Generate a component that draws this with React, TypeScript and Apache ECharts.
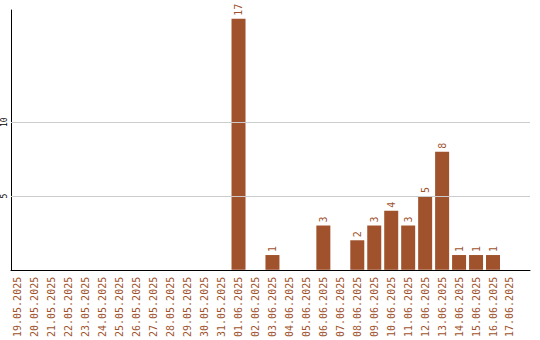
import React, { useEffect, useRef } from "react";
import * as echarts from "echarts";

const dates = [
  "19.05.2025", "20.05.2025", "21.05.2025", "22.05.2025", "23.05.2025", "24.05.2025",
  "25.05.2025", "26.05.2025", "27.05.2025", "28.05.2025", "29.05.2025", "30.05.2025",
  "31.05.2025", "01.06.2025", "02.06.2025", "03.06.2025", "04.06.2025", "05.06.2025",
  "06.06.2025", "07.06.2025", "08.06.2025", "09.06.2025", "10.06.2025", "11.06.2025",
  "12.06.2025", "13.06.2025", "14.06.2025", "15.06.2025", "16.06.2025", "17.06.2025",
];
const counts = [
  0, 0, 0, 0, 0, 0, 0, 0, 0, 0, 0, 0, 0, 17, 0, 1, 0, 0, 3, 0, 2, 3, 4, 3, 5, 8, 1, 1, 1, 0,
];
const yTickValues = [5, 10];

const BROWN = "#a0522d";
const FONT = "DejaVu Sans Mono";

export default function App() {
  const ref = useRef<HTMLDivElement>(null);
  useEffect(() => {
    if (!ref.current) return;
    const chart = echarts.init(ref.current, null, { renderer: "svg" });
    const barData = counts
      .map((v, i) => [i, v])
      .filter((d) => d[1] > 0);
    chart.setOption({
      animation: false,
      grid: { left: 10, right: 10, top: 10, bottom: 70, containLabel: false },
      xAxis: {
        type: "value",
        min: -0.41,
        max: 30.18,
        axisLine: { show: true, onZero: false, lineStyle: { color: "#000", width: 1 } },
        axisTick: { show: false },
        splitLine: { show: false },
        axisLabel: {
          customValues: dates.map((_, i) => i),
          formatter: (v: number) => dates[Math.round(v)] ?? "",
          rotate: 90,
          margin: 7,
          color: BROWN,
          fontFamily: FONT,
          fontSize: 10,
        },
      },
      yAxis: {
        type: "value",
        min: 0,
        max: 17.6,
        axisLine: { show: true, onZero: false, lineStyle: { color: "#000", width: 1 } },
        axisTick: { show: false },
        splitLine: { show: false },
        axisLabel: {
          customValues: yTickValues,
          rotate: 90,
          margin: 3,
          color: "#000",
          fontFamily: FONT,
          fontSize: 8,
        },
      },
      series: [
        {
          type: "line",
          data: [],
          z: 1,
          silent: true,
          markLine: {
            silent: true,
            symbol: "none",
            label: { show: false },
            lineStyle: { color: "#cccccc", width: 1, type: "solid" },
            data: yTickValues.map((v) => ({ yAxis: v })),
          },
        },
        {
          type: "bar",
          z: 3,
          barWidth: 14,
          itemStyle: { color: BROWN },
          data: barData,
          label: {
            show: true,
            position: "top",
            rotate: 90,
            align: "left",
            verticalAlign: "middle",
            distance: 3,
            color: BROWN,
            fontFamily: FONT,
            fontSize: 10,
            formatter: (p: any) => String(p.value[1]),
          },
        },
      ],
    });
    return () => chart.dispose();
  }, []);
  return <div ref={ref} style={{ width: 540, height: 340, position: "absolute", left: 0, top: 0 }} />;
}
